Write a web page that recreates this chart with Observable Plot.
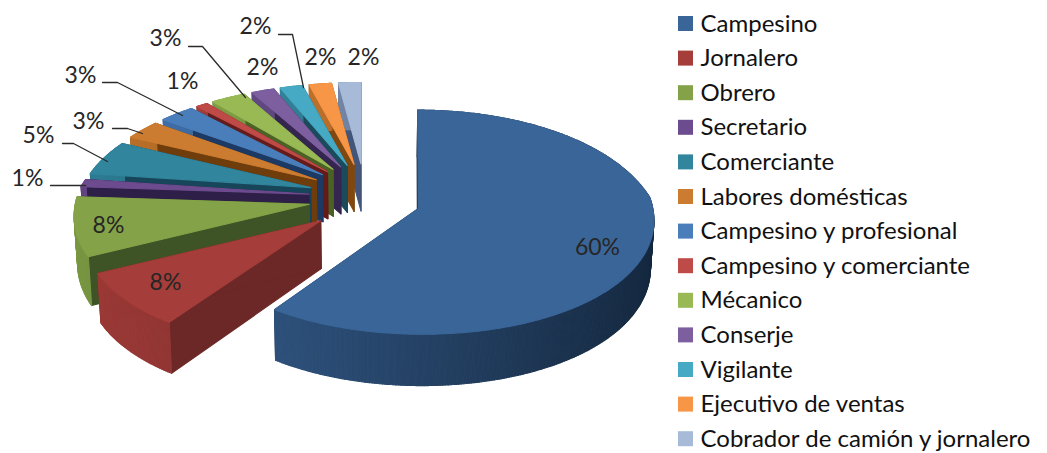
<!DOCTYPE html>
<html lang="es">
<head>
<meta charset="utf-8">
<script src="https://cdn.jsdelivr.net/npm/d3@7"></script>
<script src="https://cdn.jsdelivr.net/npm/@observablehq/plot@0.6"></script>
<style>
  html, body { margin: 0; padding: 0; background: #fff; }
  svg { display: block; }
</style>
</head>
<body>
<div id="chart"></div>
<script>
// Ocupaciones, porcentaje por categoría
const categories = ["Campesino", "Jornalero", "Obrero", "Secretario", "Comerciante", "Labores domésticas",
  "Campesino y profesional", "Campesino y comerciante", "Mécanico", "Conserje", "Vigilante",
  "Ejecutivo de ventas", "Cobrador de camión y jornalero"];
const shares = [60, 8, 8, 1, 5, 3, 3, 1, 3, 2, 2, 2, 2];
const topColors = ["#3A6598", "#A53D3A", "#84A348", "#6C4B8E", "#31859C", "#CC7C30", "#4A7EBB", "#BE4B48",
  "#98B954", "#7D5FA0", "#46AAC4", "#F79646", "#A7BBD8"];
const wallColors = ["#15283F", "#6B2826", "#3F5426", "#2E1F48", "#17465A", "#6F3C0C", "#1C3A63", "#641B19",
  "#4A6224", "#352650", "#1B4A5C", "#80480F", "#44557A"];

// Colocación de las etiquetas de porcentaje y de sus líneas guía, por categoría
const labelAt = [[597, 247], [165, 282], [108, 225], [27, 178], [38, 135], [88, 121], [80, 75], [182, 81],
  [165, 38], [262, 67], [255, 26], [320, 57], [363, 57]];
const leaders = [
  [3, [[50, 185], [85, 185]]],
  [4, [[62, 143], [73, 143], [107, 161]]],
  [5, [[112, 128], [127, 128], [142, 133]]],
  [6, [[102, 82], [117, 82], [182, 115]]],
  [8, [[188, 46], [202, 46], [245, 97]]],
  [10, [[278, 34], [292, 34], [303, 87]]]
];

// Parámetros de la vista en perspectiva del pastel: el frente se agranda y el fondo se comprime
const view = {x0: 364, y0: 197, R: 233, tilt: 0.52, backX: 1000, frontX: 3000, backY: 820, frontY: 8000,
  depth: 47, shrink: 0.012, explodeU: 56, explodeV: 70};

function project(tipU, tipV, rimU, rimV, lower) {
  const v = tipV + rimV;
  const kBack = v < 0 ? 1 / (1 - v / view.backX) : 1;
  const kFront = v > 0 ? 1 / (1 - v / view.frontX) : 1;
  const kY = v < 0 ? 1 / (1 - v / view.backY) : 1 / (1 - v / view.frontY);
  return {
    x: view.x0 + (tipU + rimU * kBack) * kFront * (lower ? 1 - view.shrink : 1),
    y: view.y0 + view.tilt * v * kY + (lower ? view.depth * kFront : 0)
  };
}

// Cada porción: ángulos acumulados desde las doce, en sentido horario
let running = 0;
const slices = shares.map((s, i) => {
  const a0 = running / 100 * 2 * Math.PI;
  running += s;
  const a1 = running / 100 * 2 * Math.PI;
  const mid = (a0 + a1) / 2;
  return {i, s, a0, a1, tipU: view.explodeU * Math.sin(mid), tipV: -view.explodeV * Math.cos(mid)};
});

const rim = (sl, a, lower) =>
  project(sl.tipU, sl.tipV, view.R * Math.sin(a), -view.R * Math.cos(a), lower);
const tip = (sl, lower) => project(sl.tipU, sl.tipV, 0, 0, lower);

// Las caras se acumulan de atrás hacia delante para que se tapen entre sí
const faces = [];
let faceId = 0;
function addFace(pts, fill) {
  const id = faceId++;
  pts.forEach((p) => faces.push({id, x: p.x, y: p.y, fill}));
}

[...slices].reverse().forEach((sl) => {
  const top = topColors[sl.i], wall = wallColors[sl.i];
  const steps = Math.max(12, sl.s * 6);
  const angles = d3.range(steps + 1).map((j) => sl.a0 + (sl.a1 - sl.a0) * j / steps);
  addFace([tip(sl, false), rim(sl, sl.a0, false), rim(sl, sl.a0, true), tip(sl, true)], wall);
  addFace([tip(sl, false), rim(sl, sl.a1, false), rim(sl, sl.a1, true), tip(sl, true)], wall);
  for (let j = 0; j < steps; j++) {
    const a = angles[j], b = angles[j + 1];
    const light = (1 - Math.sin((a + b) / 2)) / 2;
    const shade = d3.interpolateRgb(wall, top)(0.85 * light);
    addFace([rim(sl, a, false), rim(sl, b, false), rim(sl, b, true), rim(sl, a, true)], shade);
  }
  addFace([tip(sl, false), ...angles.map((a) => rim(sl, a, false))], top);
});

const leaderPoints = leaders.flatMap(([i, pts]) => pts.map(([x, y]) => ({i, x, y})));
const labels = shares.map((s, i) => ({text: `${s}%`, x: labelAt[i][0], y: labelAt[i][1]}));
const rowY = (i) => 23.5 + 34.6 * i;
const legendRows = categories.map((name, i) => ({name, i, y: rowY(i), color: topColors[i]}));

const chart = Plot.plot({
  width: 1047,
  height: 453,
  margin: 0,
  x: {domain: [0, 1047], range: [0, 1047], axis: null},
  y: {domain: [0, 453], range: [0, 453], axis: null},
  style: {background: "#fff"},
  marks: [
    Plot.line(faces, {x: "x", y: "y", z: "id", fill: "fill", stroke: "fill", strokeWidth: 1.1, curve: "linear-closed"}),
    Plot.line(leaderPoints, {x: "x", y: "y", z: "i", stroke: "#2b2b2b", strokeWidth: 1.3}),
    Plot.text(labels, {x: "x", y: "y", text: "text", fontFamily: "Lato", fontSize: 23, fill: "#262626"}),
    Plot.rect(legendRows, {x1: () => 678, x2: () => 693, y1: (d) => d.y - 7.5, y2: (d) => d.y + 7.5, fill: "color"}),
    Plot.text(legendRows, {x: () => 700, y: "y", text: "name", textAnchor: "start", fontFamily: "Lato", fontSize: 24, fill: "#111"})
  ]
});
document.getElementById("chart").append(chart);
</script>
</body>
</html>
